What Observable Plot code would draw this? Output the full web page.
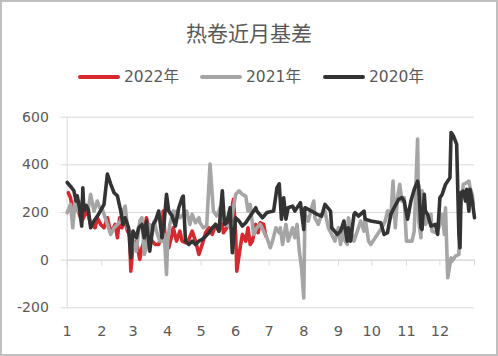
<!DOCTYPE html>
<html><head><meta charset="utf-8">
<script src="https://cdn.jsdelivr.net/npm/d3@7"></script>
<script src="https://cdn.jsdelivr.net/npm/@observablehq/plot@0.6"></script>
<style>
body{margin:0;background:#fff;}
#wrap{position:relative;width:498px;height:356px;overflow:hidden;font-family:"DejaVu Sans","Noto Sans CJK SC",sans-serif;color:#595959;background:#fff;}
#frame{position:absolute;left:0;top:0;width:498px;height:356px;box-sizing:border-box;border:2px solid #bfbfbf;pointer-events:none;}
#title{position:absolute;left:0;top:22px;width:498px;text-align:center;font-family:"Noto Sans CJK SC",sans-serif;font-size:21px;line-height:21px;}
.leg{position:absolute;top:68px;height:18px;font-size:15.5px;line-height:18px;white-space:nowrap;}
.sw{position:absolute;left:0;top:7px;width:42px;height:4px;border-radius:2px;}
.lt{position:absolute;left:46px;top:0;}
#chart{position:absolute;left:0;top:100px;}
</style>
</head><body>
<div id="wrap">
  <div id="title">热卷近月基差</div>
  <div id="legend"></div>
  <div id="chart"></div>
  <div id="frame"></div>
</div>
<script>
const titleText = "热卷近月基差";
const seriesNames = ["2022年", "2021年", "2020年"];
const seriesColors = ["#d7282f", "#a5a5a5", "#333333"];
const legendLeft = [78, 200, 323];

const yTicks = [-200, 0, 200, 400, 600];
const tickDays = [0, 31, 59, 90, 120, 151, 181, 212, 243, 273, 304, 334, 365];
const labelDays = [0, 31, 59, 90, 120, 151, 181, 212, 243, 273, 304, 334];
const monthLabels = ["1","2","3","4","5","6","7","8","9","10","11","12"];

const days2022 = [1,3,4,7,10,13,16,18,21,25,27,30,33,36,38,40,43,45,47,49,51,54,56,57,59,62,65,67,69,71,74,76,79,82,85,86,88,91,94,95,98,101,103,106,109,112,115,118,121,124,127,130,133,136,138,140,143,146,149,151,152,155,157,160,162,164,166,169,171,173,176,178];
const vals2022 = [283,262,234,220,206,164,192,206,150,136,178,150,136,178,136,122,150,94,178,136,178,122,108,-46,66,80,3,52,80,178,108,80,66,66,108,206,80,52,108,136,80,122,80,73,87,122,80,24,66,115,136,108,150,122,178,115,136,178,255,108,-46,52,108,80,136,66,80,150,115,157,150,101];

const days2021 = [0,3,5,7,10,13,16,19,21,24,27,29,31,33,36,39,42,45,48,50,52,54,56,58,59,62,65,67,69,71,74,76,78,80,83,85,87,89,90,92,95,97,98,101,104,107,110,112,115,118,119,122,125,128,131,134,137,140,143,146,149,151,154,157,160,162,164,167,170,173,176,179,182,184,187,190,191,193,196,197,198,200,202,204,206,208,210,212,213,216,219,221,222,225,228,231,234,237,240,243,245,248,249,251,252,255,257,260,263,266,267,270,272,276,279,282,285,287,288,290,292,294,296,298,300,302,304,306,309,311,314,315,317,318,320,321,323,326,327,330,333,336,338,339,341,342,344,345,348,351,352,355,358,360,361,363,364];
const vals2021 = [199,234,136,248,206,248,220,220,276,206,248,220,220,192,150,108,136,150,164,206,227,136,122,108,80,38,164,178,24,52,150,108,164,122,80,80,108,-60,80,150,206,164,206,178,192,206,150,192,157,178,157,136,143,403,206,185,220,164,150,136,220,276,291,276,269,206,234,108,136,150,122,94,52,80,136,115,136,66,150,122,80,108,136,94,150,38,-32,-159,192,164,220,248,178,150,192,206,136,108,80,136,66,150,80,66,178,108,80,122,164,122,178,80,66,94,115,136,164,206,206,178,332,136,262,318,248,262,80,80,80,122,508,164,94,291,248,150,164,192,122,115,136,192,108,220,-74,-46,10,-4,17,24,206,318,325,332,304,276,234];

const days2020 = [0,4,6,8,9,11,13,14,15,17,19,21,24,28,33,36,39,42,45,46,48,50,52,55,57,59,62,64,67,69,71,74,77,79,82,85,87,89,91,94,97,100,103,104,106,109,112,115,118,121,124,127,130,133,136,139,141,143,146,148,151,154,157,160,164,169,170,175,179,185,188,190,192,194,196,198,202,204,209,212,213,219,224,228,231,236,237,242,245,248,251,252,254,257,258,261,266,267,272,281,284,287,290,293,297,300,302,305,308,311,314,315,317,318,320,321,323,326,330,332,334,336,339,343,344,346,349,351,352,353,355,357,358,360,361,363,365];
const vals2020 = [326,304,291,248,270,220,143,304,206,230,210,136,164,192,234,361,319,283,270,248,206,150,178,136,10,122,94,136,150,94,164,38,150,164,206,94,164,276,206,185,143,220,262,269,80,66,80,66,80,87,100,115,136,150,122,291,150,157,220,31,178,164,143,157,185,220,206,178,200,206,304,320,172,262,172,220,227,206,241,129,220,206,192,185,234,206,136,108,122,164,80,136,80,192,199,185,206,172,164,157,108,115,192,220,255,262,248,172,248,297,332,311,136,129,276,206,192,143,150,108,262,276,318,346,536,522,487,108,52,283,290,248,297,206,297,248,178];

const toRows = (ds, vs) => ds.map((d, i) => ({day: d, v: vs[i]}));
const seriesData = [toRows(days2022, vals2022), toRows(days2021, vals2021), toRows(days2020, vals2020)];

// legend
const legend = document.getElementById("legend");
seriesNames.forEach((name, i) => {
  const item = document.createElement("div");
  item.className = "leg";
  item.style.left = legendLeft[i] + "px";
  const sw = document.createElement("div");
  sw.className = "sw";
  sw.style.background = seriesColors[i];
  const t = document.createElement("span");
  t.className = "lt";
  t.textContent = name;
  item.appendChild(sw); item.appendChild(t);
  legend.appendChild(item);
});
document.getElementById("title").textContent = titleText;

const labelByDay = new Map(labelDays.map((d, i) => [d, monthLabels[i]]));
const grid = "#d9d9d9";

const chart = Plot.plot({
  width: 498, height: 256,
  marginTop: 16.7, marginBottom: 48.7, marginLeft: 66.7, marginRight: 24,
  style: {fontFamily: "DejaVu Sans", fontSize: "14px", color: "#595959", background: "transparent", overflow: "visible"},
  x: {domain: [0, 365]},
  y: {domain: [-200, 600]},
  marks: [
    Plot.gridY(yTicks, {stroke: grid, strokeOpacity: 1}),
    Plot.axisY(yTicks, {tickSize: 6, tickPadding: 12.4, stroke: grid, fill: "#595959", fontSize: 14, label: null, tickFormat: d => String(d)}),
    Plot.ruleX([0], {stroke: grid}),
    Plot.ruleY([0], {stroke: grid}),
    Plot.ruleX(tickDays, {y1: 0, y2: 0, insetBottom: -6, stroke: grid}),
    Plot.axisX(labelDays, {tickSize: 0, tickPadding: 18, fill: "#595959", fontSize: 14.5, label: null, tickFormat: d => labelByDay.get(d)}),
    ...seriesData.map((rows, i) => Plot.line(rows, {x: "day", y: "v", stroke: seriesColors[i], strokeWidth: 3.6, strokeLinejoin: "round", strokeLinecap: "round"}))
  ]
});
document.getElementById("chart").appendChild(chart);
</script>
</body></html>
